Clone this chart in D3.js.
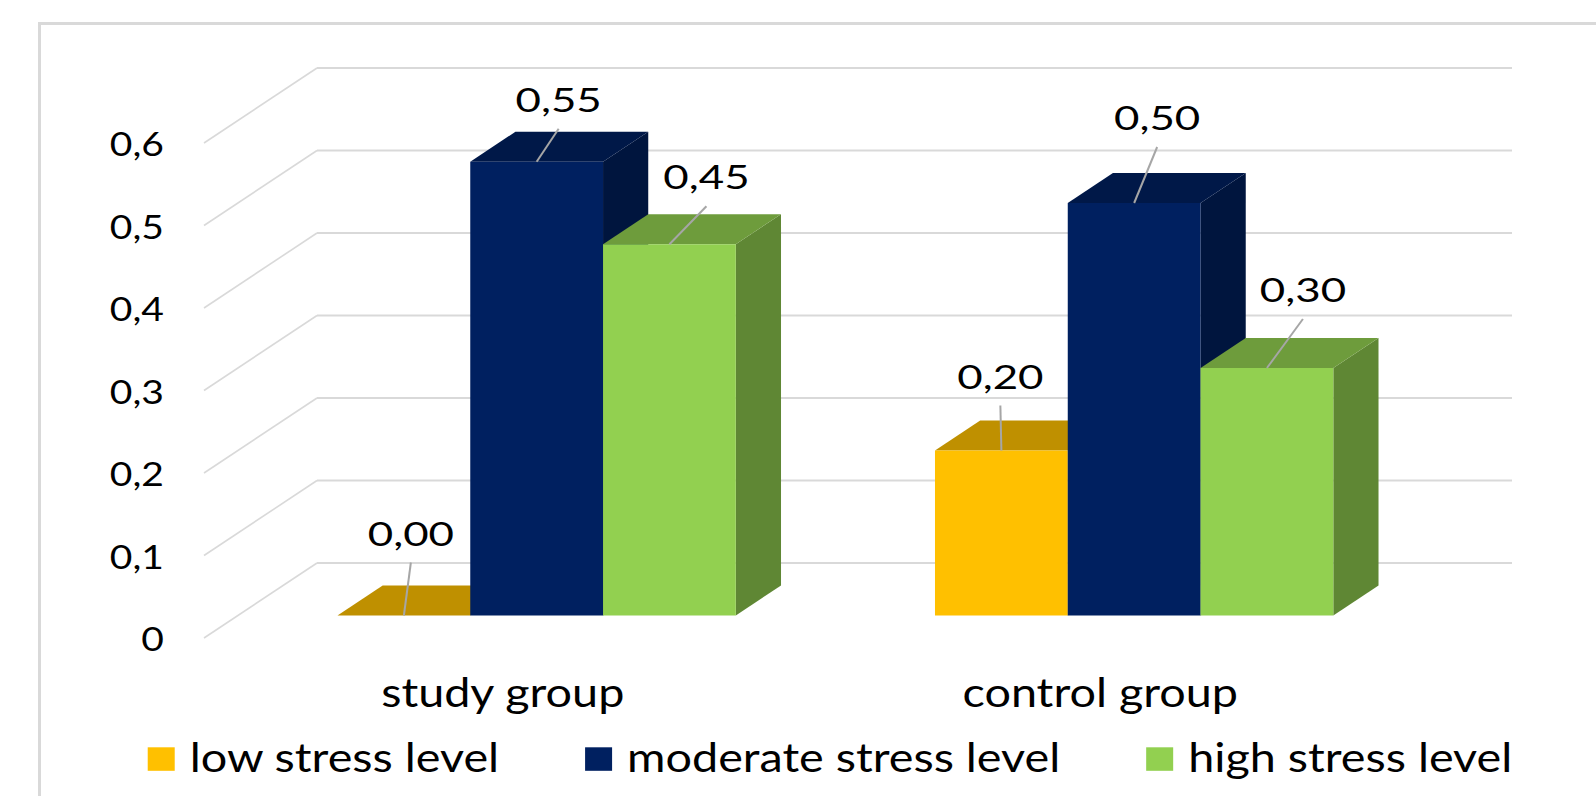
<!DOCTYPE html>
<html><head><meta charset="utf-8">
<script src="https://cdn.jsdelivr.net/npm/d3@7"></script>
<style>html,body{margin:0;padding:0;background:#fff;} svg{display:block;}</style>
</head><body>
<svg id="chart" width="1596" height="796"></svg>
<script>
// ---- data ----
const categories = ["study group", "control group"];
const seriesNames = ["low stress level", "moderate stress level", "high stress level"];
const lowStress = [0.00, 0.20];
const moderateStress = [0.55, 0.50];
const highStress = [0.45, 0.30];
const yTicks = [0, 0.1, 0.2, 0.3, 0.4, 0.5, 0.6];

// ---- styling ----
const seriesValues = [lowStress, moderateStress, highStress];
const seriesColors = ["#FFC000", "#002060", "#92D050"];
const FONT = "Lato";
const GRID = "#D9D9D9";

// hand-placed data label offsets (px) from the top-front centre of each bar, [category][series]
const labelNudge = [
  [[7, -82], [22, -62], [37, -67]],
  [[-1, -74], [23, -85], [36, -78]]
];

const svg = d3.select("#chart");

// ---- 3D oblique projection ----
const plot = { x0: 204, x1: 1399, y0: 638, y1: 143 };
const DEPTH = { dx: 113, dy: 75 };
const barDepth = [0.3, 0.7];

const x = d3.scaleBand().domain(categories).range([plot.x0, plot.x1]);
const xs = d3.scaleBand().domain(seriesNames).range([0, x.bandwidth()]).paddingOuter(0.75);
const y = d3.scaleLinear().domain([0, 0.6]).range([plot.y0, plot.y1]);
const P = (px, v, d) => [px + d * DEPTH.dx, y(v) - d * DEPTH.dy];

const locale = d3.formatLocale({ decimal: ",", thousands: " ", grouping: [3], currency: ["", ""] });
const fmtTick = v => v === 0 ? "0" : locale.format(".1f")(v);
const fmtVal = locale.format(".2f");

const shade = (c, k) => { const r = d3.rgb(c); return d3.rgb(r.r * k, r.g * k, r.b * k).formatHex(); };

// chart frame
svg.append("path")
  .attr("d", "M39.5,796 V23.5 H1596")
  .attr("fill", "none").attr("stroke", "#D9D9D9").attr("stroke-width", 3);

// gridlines: side wall diagonal + back wall
const grid = svg.append("g");
yTicks.forEach(t => {
  const a = P(plot.x0, t, 0), b = P(plot.x0, t, 1), c = P(plot.x1, t, 1);
  grid.append("line").attr("x1", a[0]).attr("y1", a[1]).attr("x2", b[0]).attr("y2", b[1])
    .attr("stroke", GRID).attr("stroke-width", 1.6);
  grid.append("line").attr("x1", b[0]).attr("y1", b[1]).attr("x2", c[0]).attr("y2", c[1])
    .attr("stroke", GRID).attr("stroke-width", 2);
});

// value axis labels
svg.append("g").selectAll("text").data(yTicks).join("text")
  .attr("transform", d => `translate(164,${y(d) + 13}) scale(1.22,1)`)
  .attr("text-anchor", "end")
  .attr("font-family", FONT).attr("font-size", 32).attr("fill", "#000")
  .text(fmtTick);

// bars
const bars = svg.append("g");
const poly = pts => "M" + pts.map(p => p.join(",")).join("L") + "Z";
const barData = [];
categories.forEach((cat, i) => {
  seriesNames.forEach((s, j) => {
    barData.push({ cat, s, i, j, v: seriesValues[j][i], color: seriesColors[j] });
  });
});
barData.forEach(b => {
  const xl = x(b.cat) + xs(b.s), xr = xl + xs.bandwidth();
  const [d0, d1] = barDepth;
  const g = bars.append("g");
  g.append("path").attr("d", poly([P(xr, 0, d0), P(xr, b.v, d0), P(xr, b.v, d1), P(xr, 0, d1)]))
    .attr("fill", shade(b.color, 0.65));
  g.append("path").attr("d", poly([P(xl, b.v, d0), P(xr, b.v, d0), P(xr, b.v, d1), P(xl, b.v, d1)]))
    .attr("fill", shade(b.color, 0.75));
  g.append("path").attr("d", poly([P(xl, 0, d0), P(xl, b.v, d0), P(xr, b.v, d0), P(xr, 0, d0)]))
    .attr("fill", b.color);
});

// data labels with leader lines
const labels = svg.append("g");
barData.forEach(b => {
  const xc = x(b.cat) + xs(b.s) + xs.bandwidth() / 2;
  const anchor = P(xc, b.v, barDepth[0]);
  const [nx, ny] = labelNudge[b.i][b.j];
  const cx = anchor[0] + nx, cy = anchor[1] + ny;
  labels.append("line")
    .attr("x1", cx).attr("y1", cy + 29).attr("x2", anchor[0]).attr("y2", anchor[1])
    .attr("stroke", "#A6A6A6").attr("stroke-width", 2);
  labels.append("text")
    .attr("transform", `translate(${cx},${cy + 12}) scale(1.33,1)`)
    .attr("text-anchor", "middle")
    .attr("font-family", FONT).attr("font-size", 33).attr("fill", "#000")
    .text(fmtVal(b.v));
});

// category labels
svg.append("g").selectAll("text").data(categories).join("text")
  .attr("transform", d => `translate(${x(d) + x.bandwidth() / 2},707) scale(1.14,1)`)
  .attr("text-anchor", "middle")
  .attr("font-family", FONT).attr("font-size", 41).attr("fill", "#000")
  .text(d => d);

// legend
const legend = svg.append("g");
const SX = 1.14, swW = 27, swH = 23.5, swGap = 15, itemGap = 86;
const items = seriesNames.map((name, j) => {
  const g = legend.append("g");
  g.append("rect").attr("x", 0).attr("y", 747.3).attr("width", swW).attr("height", swH)
    .attr("fill", seriesColors[j]);
  const t = g.append("text")
    .attr("transform", `translate(${swW + swGap},772) scale(${SX},1)`)
    .attr("font-family", FONT).attr("font-size", 41).attr("fill", "#000")
    .text(name);
  return { g, w: swW + swGap + t.node().getComputedTextLength() * SX };
});
const total = d3.sum(items, d => d.w) + itemGap * (items.length - 1);
let lx = 830 - total / 2;
items.forEach(it => { it.g.attr("transform", `translate(${lx},0)`); lx += it.w + itemGap; });
</script>
</body></html>
